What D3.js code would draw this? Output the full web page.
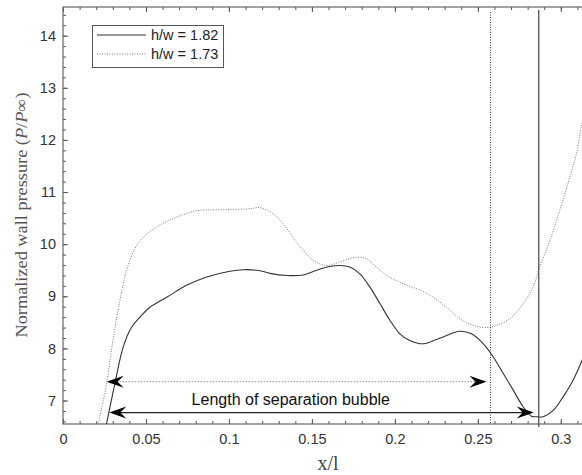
<!DOCTYPE html>
<html>
<head>
<meta charset="utf-8">
<script src="https://cdn.jsdelivr.net/npm/d3@7"></script>
<style>
  body { margin: 0; background: #fff; }
  svg { display: block; }
  .tick text { font-family: "Liberation Sans", Arial, sans-serif; font-size: 14.5px; fill: #333; }
</style>
</head>
<body>
<div id="chart"></div>
<script>
// pressure distribution
var xSolid = [0.0262, 0.0313, 0.0363, 0.0414, 0.0464, 0.0524, 0.0625, 0.0745, 0.0866, 0.1006,
  0.1086, 0.1187, 0.1247, 0.1348, 0.1448, 0.1528, 0.1608, 0.1669, 0.1729, 0.1789,
  0.1849, 0.1910, 0.1970, 0.2030, 0.2090, 0.2151, 0.2191, 0.2291, 0.2392, 0.2462,
  0.2532, 0.2592, 0.2653, 0.2713, 0.2773, 0.2823, 0.2853, 0.2893, 0.2954, 0.3014,
  0.3074, 0.3124, 0.3140];
var ySolid = [6.55, 7.33, 8.03, 8.41, 8.60, 8.79, 8.98, 9.21, 9.37, 9.48,
  9.51, 9.49, 9.44, 9.40, 9.41, 9.50, 9.57, 9.59, 9.56, 9.43,
  9.18, 8.86, 8.54, 8.28, 8.15, 8.09, 8.10, 8.22, 8.33, 8.28,
  8.09, 7.84, 7.52, 7.20, 6.88, 6.70, 6.69, 6.69, 6.81, 7.07,
  7.39, 7.74, 7.86];

var xDotted = [0.0213, 0.0263, 0.0301, 0.0343, 0.0384, 0.0434, 0.0484, 0.0564, 0.0664, 0.0765,
  0.0825, 0.0964, 0.1127, 0.1187, 0.1267, 0.1327, 0.1387, 0.1448, 0.1508, 0.1589,
  0.1669, 0.1769, 0.1829, 0.1889, 0.1950, 0.2010, 0.2070, 0.2151, 0.2231, 0.2311,
  0.2392, 0.2472, 0.2552, 0.2612, 0.2693, 0.2773, 0.2833, 0.2873, 0.2934, 0.2994,
  0.3054, 0.3094, 0.3124, 0.3140];
var yDotted = [6.56, 7.33, 8.16, 8.92, 9.50, 9.92, 10.13, 10.33, 10.49, 10.61,
  10.65, 10.66, 10.68, 10.70, 10.58, 10.39, 10.13, 9.88, 9.69, 9.59,
  9.66, 9.75, 9.72, 9.56, 9.40, 9.30, 9.21, 9.12, 8.98, 8.79,
  8.57, 8.44, 8.40, 8.44, 8.57, 8.86, 9.18, 9.56, 10.07, 10.65,
  11.28, 11.73, 12.27, 12.55];

var seriesNames = ["h/w = 1.82", "h/w = 1.73"];
var reattach = [0.2867, 0.2576];          // vertical markers (solid, dotted)
var bubbleStart = [0.0279, 0.0263];       // arrow tips on the left
var bubbleEnd = [0.2837, 0.2552];         // arrow tips on the right
var bubbleLevel = [6.77, 7.36];           // arrow heights
var xTicks = [0, 0.05, 0.1, 0.15, 0.2, 0.25, 0.3];
var yTicks = [7, 8, 9, 10, 11, 12, 13, 14];

var svgWidth = 582, svgHeight = 475;
var margin = { top: 7, left: 63, bottom: 51 };
var plotRight = 594;

var svg = d3.select("#chart").append("svg")
  .attr("width", svgWidth)
  .attr("height", svgHeight);

var x = d3.scaleLinear().domain([0, 0.32]).range([margin.left, plotRight]);
var y = d3.scaleLinear().domain([6.55, 14.55]).range([svgHeight - margin.bottom, margin.top]);

svg.append("clipPath").attr("id", "plotclip")
  .append("rect")
  .attr("x", margin.left).attr("y", margin.top)
  .attr("width", plotRight - margin.left)
  .attr("height", y.range()[0] - margin.top);

// minor ticks
var xMinor = d3.range(0, 0.321, 0.01);
var yMinor = d3.range(6.6, 14.55, 0.2);
svg.append("g").attr("transform", `translate(0,${y.range()[0]})`)
  .call(d3.axisBottom(x).tickValues(xMinor).tickSize(-3).tickFormat(""));
svg.append("g").attr("transform", `translate(0,${margin.top})`)
  .call(d3.axisTop(x).tickValues(xMinor).tickSize(-3).tickFormat(""));
svg.append("g").attr("transform", `translate(${margin.left},0)`)
  .call(d3.axisLeft(y).tickValues(yMinor).tickSize(-3).tickFormat(""));

// major ticks
svg.append("g").attr("class", "xaxis").attr("transform", `translate(0,${y.range()[0]})`)
  .call(d3.axisBottom(x).tickValues(xTicks).tickSize(-5).tickPadding(10).tickFormat(d => d3.format("")(d)));
svg.append("g").attr("transform", `translate(0,${margin.top})`)
  .call(d3.axisTop(x).tickValues(xTicks).tickSize(-5).tickFormat(""));
svg.append("g").attr("class", "yaxis").attr("transform", `translate(${margin.left},0)`)
  .call(d3.axisLeft(y).tickValues(yTicks).tickSize(-5).tickPadding(7));

svg.selectAll(".domain").remove();
svg.selectAll(".tick line").attr("stroke", "#555");

// axes box
svg.append("rect")
  .attr("x", margin.left).attr("y", margin.top)
  .attr("width", plotRight - margin.left)
  .attr("height", y.range()[0] - margin.top)
  .attr("fill", "none")
  .attr("stroke", "#666")
  .attr("stroke-width", 1.2);

var plot = svg.append("g").attr("clip-path", "url(#plotclip)");

var line = d3.line()
  .x(d => x(d[0]))
  .y(d => y(d[1]))
  .curve(d3.curveCatmullRom.alpha(0.5));

plot.append("path")
  .datum(d3.zip(xDotted, yDotted))
  .attr("d", line)
  .attr("fill", "none")
  .attr("stroke", "#777")
  .attr("stroke-width", 1)
  .attr("stroke-dasharray", "1,1.5");

plot.append("path")
  .datum(d3.zip(xSolid, ySolid))
  .attr("d", line)
  .attr("fill", "none")
  .attr("stroke", "#333")
  .attr("stroke-width", 1.1);

// reattachment markers
svg.append("line")
  .attr("x1", x(reattach[0])).attr("x2", x(reattach[0]))
  .attr("y1", margin.top + 3).attr("y2", y.range()[0] + 3)
  .attr("stroke", "#555").attr("stroke-width", 1.3);
svg.append("line")
  .attr("x1", x(reattach[1])).attr("x2", x(reattach[1]))
  .attr("y1", margin.top + 5).attr("y2", y.range()[0])
  .attr("stroke", "#333").attr("stroke-width", 1).attr("stroke-dasharray", "1,1.5");

// double arrows for the separation bubble
function head(tx, ty, dir) {
  var L = 17, W = 6, N = 11;
  return `M${tx},${ty} L${tx + dir * L},${ty - W} L${tx + dir * N},${ty} L${tx + dir * L},${ty + W} Z`;
}
[0, 1].forEach(function(i) {
  var ay = y(bubbleLevel[i]);
  var x0 = x(bubbleStart[i]), x1 = x(bubbleEnd[i]);
  svg.append("line")
    .attr("x1", x0 + 10).attr("x2", x1 - 10)
    .attr("y1", ay).attr("y2", ay)
    .attr("stroke", i == 0 ? "#222" : "#555")
    .attr("stroke-width", i == 0 ? 1.2 : 1)
    .attr("stroke-dasharray", i == 0 ? null : "1,2");
  svg.append("path").attr("d", head(x0, ay, 1)).attr("fill", "#000");
  svg.append("path").attr("d", head(x1, ay, -1)).attr("fill", "#000");
});

svg.append("text")
  .text("Length of separation bubble")
  .attr("x", x(0.0775))
  .attr("y", y(6.91))
  .attr("font-family", "Liberation Sans, Arial, sans-serif")
  .attr("font-size", "16px")
  .attr("fill", "#111");

// legend
var leg = svg.append("g");
leg.append("rect")
  .attr("x", 92.5).attr("y", 25.5).attr("width", 131).attr("height", 42)
  .attr("fill", "#fff").attr("stroke", "#555").attr("stroke-width", 1);
seriesNames.forEach(function(name, i) {
  var ly = 35 + i * 19;
  leg.append("line")
    .attr("x1", 97).attr("x2", 146).attr("y1", ly).attr("y2", ly)
    .attr("stroke", i == 0 ? "#333" : "#777")
    .attr("stroke-width", 1)
    .attr("stroke-dasharray", i == 0 ? null : "1,1.5");
  leg.append("text")
    .text(name)
    .attr("x", 151).attr("y", ly + 5)
    .attr("font-family", "Liberation Sans, Arial, sans-serif")
    .attr("font-size", "14.5px")
    .attr("fill", "#222");
});

// axis titles
svg.append("text")
  .text("x/l")
  .attr("x", 328).attr("y", 470)
  .attr("text-anchor", "middle")
  .attr("font-family", "Liberation Serif, serif")
  .attr("font-size", "20px")
  .attr("fill", "#444");

var yl = svg.append("text")
  .attr("transform", "translate(27,215) rotate(-90)")
  .attr("text-anchor", "middle")
  .attr("font-family", "Liberation Serif, serif")
  .attr("font-size", "17px")
  .attr("fill", "#555")
  .attr("textLength", 245)
  .attr("lengthAdjust", "spacingAndGlyphs");
yl.append("tspan").text("Normalized wall pressure (");
yl.append("tspan").attr("font-style", "italic").text("P");
yl.append("tspan").text("/");
yl.append("tspan").attr("font-style", "italic").text("P");
yl.append("tspan").text("∞)");
</script>
</body>
</html>
